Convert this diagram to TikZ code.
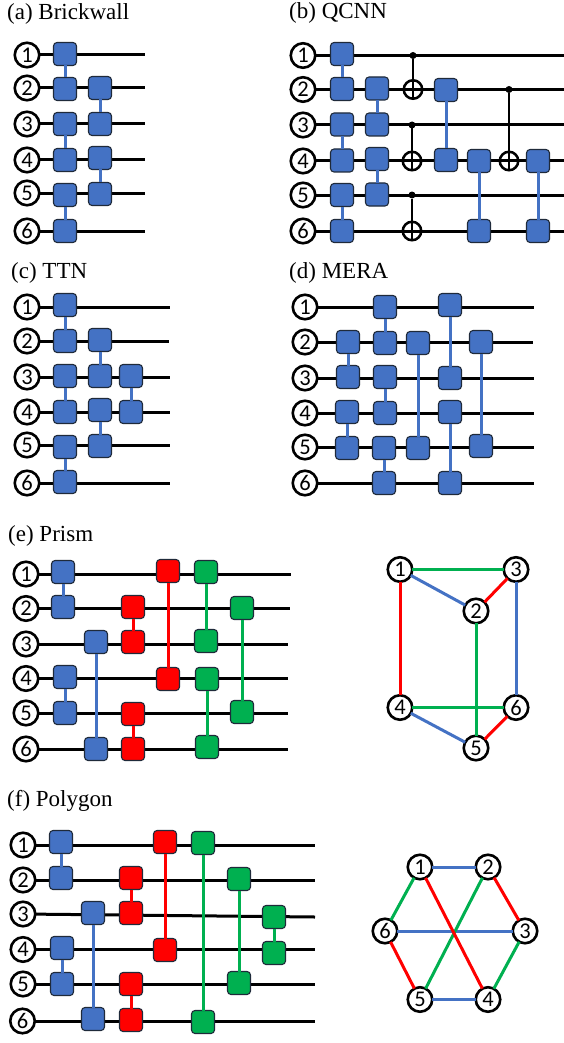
\documentclass[tikz,border=0pt]{standalone}
\usepackage{fontspec}
\setmainfont{Liberation Serif}
\setsansfont{Carlito}
\definecolor{qblue}{HTML}{4472C4}
\definecolor{qred}{HTML}{FF0000}
\definecolor{qgreen}{HTML}{00B050}
\definecolor{qedge}{HTML}{1F2A3A}
\tikzset{
  title/.style={anchor=base west,inner sep=0pt,font=\rmfamily\fontsize{23}{23}\selectfont},
  qubit/.style={circle,draw=black,fill=white,line width=2.6pt,minimum size=24.5pt,inner sep=0pt,outer sep=0pt,font=\sffamily\fontsize{22.5}{22.5}\selectfont},
  wire/.style={draw=black,line width=3pt},
  gate/.style={rectangle,rounded corners=3.5pt,draw=qedge,line width=1.1pt,minimum size=23pt,inner sep=0pt,outer sep=0pt},
  gblue/.style={gate,fill=qblue},
  gred/.style={gate,fill=qred},
  ggreen/.style={gate,fill=qgreen},
  lblue/.style={draw=qblue,line width=3pt},
  lred/.style={draw=qred,line width=3pt},
  lgreen/.style={draw=qgreen,line width=3pt},
  ctrl/.style={circle,fill=black,minimum size=7pt,inner sep=0pt,outer sep=0pt},
  targ/.style={circle,draw=black,line width=2.5pt,minimum size=18.5pt,inner sep=0pt,outer sep=0pt},
  cnotline/.style={draw=black,line width=2.6pt},
}
\begin{document}
\begin{tikzpicture}[x=1pt,y=-1pt]
\useasboundingbox (0,0) rectangle (564,1043);
% titles
\node[title] (ta) at (7,20) {(a) Brickwall};
\node[title] (tb) at (289,19) {(b) QCNN};
\node[title] (tc) at (11,278) {(c) TTN};
\node[title] (td) at (289,278) {(d) MERA};
\node[title] (te) at (8,541) {(e) Prism};
\node[title] (tf) at (7,806) {(f) Polygon};
% qubits and wires: panel, index, x, y, wire end x, wire end y
\foreach \n/\i/\x/\y/\ex/\ey in {
 a/1/27/55/145/55, a/2/27/88/145/88, a/3/27/124/145/124, a/4/27/160/145/160, a/5/27/193/145/193, a/6/27/231/145/231,
 b/1/303/55.5/564/55.5, b/2/303/89.5/564/89.5, b/3/303/125/564/125, b/4/303/161/564/161, b/5/303/195/564/195, b/6/303/231/564/231,
 c/1/27/307/169.5/307, c/2/27/341/168.5/341, c/3/27/377/169.5/377, c/4/27/412/169.5/412, c/5/27/445/169.5/445, c/6/27/483/169.5/483,
 d/1/305/307/534/307, d/2/305/342/533/342, d/3/305/378/534/378, d/4/305/413/534/413, d/5/305/447/534/447, d/6/305/483/534/483,
 e/1/26/574/291/574, e/2/26/608.5/289.5/608.5, e/3/26/644/288/644, e/4/26/678.5/288/678.5, e/5/26/713/287.5/713, e/6/26/749/287.5/749,
 f/1/23/845/315/845, f/2/23/880/315/880, f/3/23/914/315/917, f/4/23/949.5/315/949.5, f/5/23/984/315/984, f/6/22.5/1021/315/1021}
{
  \node[qubit] (\n\i) at (\x,\y) {\i};
  \coordinate (\n\i e) at (\ex,\ey);
  \draw[wire] (\n\i) -- (\n\i e);
}
% blue gates
\foreach \n/\x/\y in {
 aA/65/54, aB/65/89, aC/65/124, aD/65/160, aE/65/195, aF/65/231,
 aG/100/88, aH/100/124, aI/100/158, aJ/100/194,
 bA/342/54, bB/342/89, bC/342/124.5, bD/342/160.5, bE/342/195, bF/342/231,
 bG/377/88.5, bH/377/124.5, bI/377/159, bJ/377/194.5,
 bK/446/90, bL/446/160, bM/479/161, bN/479/231, bO/538/161, bP/538/231,
 cA/65/305, cB/65/341, cC/65/376, cD/65/412, cE/65/447, cF/65/482,
 cG/100/340, cH/100/376, cI/100/410, cJ/100/446, cK/131/376, cL/131/412,
 dA/348/342, dB/348/377, dC/347/412, dD/347/448,
 dE/385/307, dF/385/343, dG/385/377, dH/385/413, dI/384/448, dJ/384/483,
 dK/418/343, dL/418/448, dM/450/305, dN/450/378, dO/450/412, dP/450/483, dQ/481/342, dR/481/446,
 eA/63/572, eB/63/607, eC/65/677, eD/65/713, eE/96/642, eF/96/749,
 fA/61/842, fB/61/878, fC/62/948, fD/62/984, fE/93/913, fF/93/1019}
  \node[gblue] (\n) at (\x,\y) {};
% red gates
\foreach \n/\x/\y in {
 eG/133/607, eH/133/642, eI/133/714, eJ/133/749, eK/168/571, eL/168/679,
 fG/131/878, fH/131/913, fI/131/984, fJ/131/1020, fK/165/842, fL/165/950}
  \node[gred] (\n) at (\x,\y) {};
% green gates
\foreach \n/\x/\y in {
 eM/206/572, eN/206/641, eO/207/679, eP/207/747, eQ/242/608, eR/242/712,
 fM/203/843, fN/203/1022, fO/239/879, fP/239/983, fQ/274/917, fR/274/953}
  \node[ggreen] (\n) at (\x,\y) {};
% blue couplings
\foreach \p/\q in {aA/aB,aC/aD,aE/aF,aG/aH,aI/aJ,
 bA/bB,bC/bD,bE/bF,bG/bH,bI/bJ,bK/bL,bM/bN,bO/bP,
 cA/cB,cC/cD,cE/cF,cG/cH,cI/cJ,cK/cL,
 dA/dB,dC/dD,dE/dF,dG/dH,dI/dJ,dK/dL,dM/dN,dO/dP,dQ/dR,
 eA/eB,eC/eD,eE/eF,fA/fB,fC/fD,fE/fF}
  \draw[lblue] (\p) -- (\q);
% red couplings
\foreach \p/\q in {eG/eH,eI/eJ,eK/eL,fG/fH,fI/fJ,fK/fL}
  \draw[lred] (\p) -- (\q);
% green couplings
\foreach \p/\q in {eM/eN,eO/eP,eQ/eR,fM/fN,fO/fP,fQ/fR}
  \draw[lgreen] (\p) -- (\q);
% CNOTs: name, x, control y, target y
\foreach \n/\x/\cy/\ty in {u/413/55.5/89.5, v/412/125/161, w/412/195/231, z/509/89.5/161}
{
  \node[ctrl] (\n c) at (\x,\cy) {};
  \node[targ] (\n t) at (\x,\ty) {};
  \draw[cnotline] (\n c) -- (\n t.south);
}
% prism graph
\node[qubit] (p1) at (400,569.5) {1};
\node[qubit] (p2) at (476,611) {2};
\node[qubit] (p3) at (516,569.5) {3};
\node[qubit] (p4) at (400,707.5) {4};
\node[qubit] (p5) at (476,748) {5};
\node[qubit] (p6) at (516,707.5) {6};
\draw[lgreen] (p1) -- (p3);
\draw[lgreen] (p4) -- (p6);
\draw[lgreen] (p2) -- (p5);
\draw[lblue] (p1) -- (p2);
\draw[lblue] (p4) -- (p5);
\draw[lblue] (p3) -- (p6);
\draw[lred] (p2) -- (p3);
\draw[lred] (p1) -- (p4);
\draw[lred] (p5) -- (p6);
% polygon graph
\node[qubit] (g1) at (420,867) {1};
\node[qubit] (g2) at (488,867) {2};
\node[qubit] (g3) at (525,931) {3};
\node[qubit] (g4) at (488,999.5) {4};
\node[qubit] (g5) at (420,999.5) {5};
\node[qubit] (g6) at (385,931) {6};
\draw[lblue] (g1) -- (g2);
\draw[lblue] (g5) -- (g4);
\draw[lblue] (g6) -- (g3);
\draw[lgreen] (g1) -- (g6);
\draw[lgreen] (g2) -- (g5);
\draw[lgreen] (g3) -- (g4);
\draw[lred] (g2) -- (g3);
\draw[lred] (g1) -- (g4);
\draw[lred] (g6) -- (g5);
\end{tikzpicture}
\end{document}
